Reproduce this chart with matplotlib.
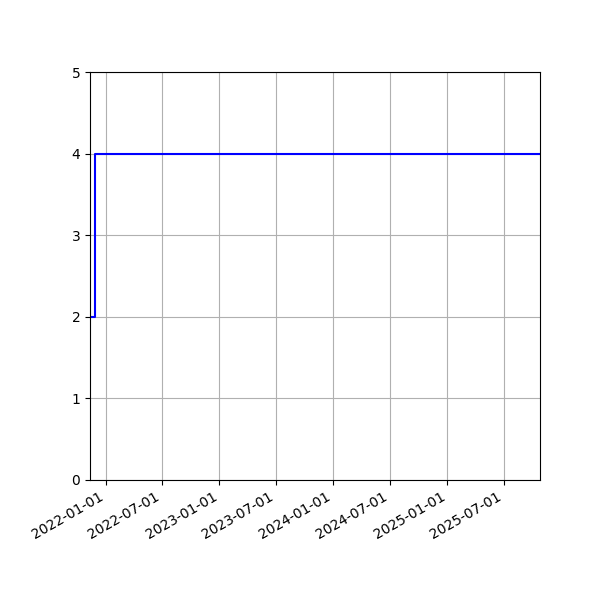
import matplotlib
matplotlib.use("Agg")
import matplotlib.pyplot as plt
import matplotlib.dates as mdates
import numpy as np

dates = np.array(["2021-11-12", "2021-11-29", "2025-10-25"], dtype="datetime64[D]")
values = [2, 4, 4]

fig, ax = plt.subplots(figsize=(6, 6), dpi=100)
ax.plot(dates, values, drawstyle="steps-post", color="b")
ax.set_xlim(dates[0], dates[-1])
ax.set_ylim(0, 5)
ax.xaxis.set_major_locator(mdates.MonthLocator(bymonth=[1, 7]))
ax.xaxis.set_major_formatter(mdates.DateFormatter("%Y-%m-%d"))
ax.grid(True)
fig.autofmt_xdate()
fig.subplots_adjust(left=0.15, right=0.9, top=0.88, bottom=0.2)
fig.savefig("out.png", dpi=100)
